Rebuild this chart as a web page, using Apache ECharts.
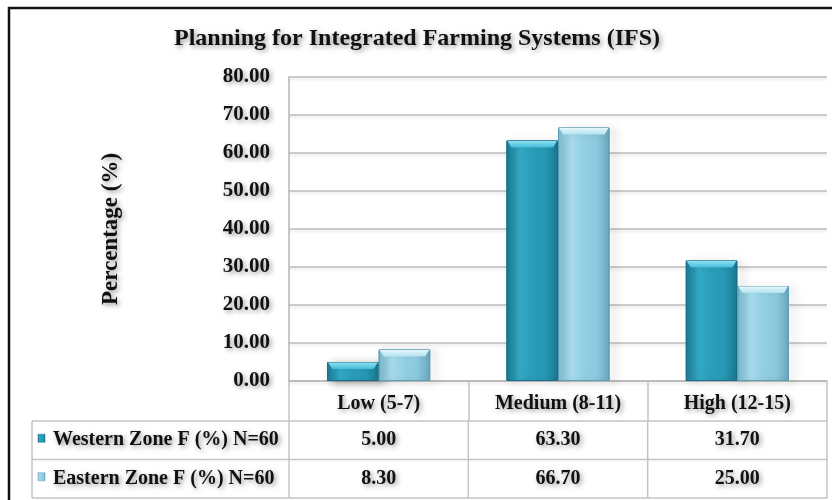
<!DOCTYPE html>
<html>
<head>
<meta charset="utf-8">
<script src="https://cdn.jsdelivr.net/npm/echarts@6/dist/echarts.min.js"></script>
<style>
  html, body { margin: 0; padding: 0; background: #fff; }
  #chart { width: 832px; height: 500px; }
</style>
</head>
<body>
<div id="chart"></div>
<script>
// Level of planning for integrated farming systems, by zone
const categories = ['Low (5-7)', 'Medium (8-11)', 'High (12-15)'];
const seriesNames = ['Western Zone F (%) N=60', 'Eastern Zone F (%) N=60'];
const westernValues = [5.00, 63.30, 31.70];
const easternValues = [8.30, 66.70, 25.00];
const yMin = 0, yMax = 80, yStep = 10;

const FONT = '"Liberation Serif", "Times New Roman", serif';
const shadowText = {
  fontFamily: FONT, fontWeight: 'bold', color: '#111',
  textShadowColor: 'rgba(0,0,0,0.4)', textShadowBlur: 5,
  textShadowOffsetX: 2, textShadowOffsetY: 2
};

function hGrad(stops) {
  return new echarts.graphic.LinearGradient(0, 0, 1, 0,
    stops.map((c, i) => ({ offset: i / (stops.length - 1), color: c })));
}
const westFill = hGrad(['#1b7d97', '#33a9c6', '#2b9db9', '#2898b4', '#1b7891']);
const eastFill = hGrad(['#7cbdd3', '#a8dbec', '#93cfe3', '#8cc9de', '#6aa8bf']);
const westCap = new echarts.graphic.LinearGradient(0, 0, 0, 1,
  [{ offset: 0, color: '#8de0f2' }, { offset: 1, color: '#45bcd8' }]);
const eastCap = new echarts.graphic.LinearGradient(0, 0, 0, 1,
  [{ offset: 0, color: '#e2f7fc' }, { offset: 1, color: '#b4e2f0' }]);

const chart = echarts.init(document.getElementById('chart'), null, { renderer: 'canvas' });

const barShadow = {
  shadowColor: 'rgba(0,0,0,0.35)', shadowBlur: 8, shadowOffsetX: 5, shadowOffsetY: 2
};

const option = {
  animation: false,
  backgroundColor: '#fff',
  title: {
    text: 'Planning for Integrated Farming Systems (IFS)',
    left: 412, top: 22, textAlign: 'center',
    textStyle: Object.assign({}, shadowText, { fontSize: 24 })
  },
  grid: { left: 289, right: 5, top: 77, bottom: 119 },
  xAxis: {
    type: 'category',
    data: categories,
    axisLine: { show: true, lineStyle: { color: '#b5b5b5', width: 1.5 } },
    axisTick: { show: true, inside: false, length: 40, interval: 0,
      lineStyle: { color: '#c4c4c4', width: 1.5 } },
    axisLabel: Object.assign({}, shadowText, { fontSize: 20, margin: 13, interval: 0 })
  },
  yAxis: {
    type: 'value',
    min: yMin, max: yMax, interval: yStep,
    name: 'Percentage (%)',
    nameLocation: 'middle',
    nameGap: 166,
    nameRotate: 90,
    nameTextStyle: Object.assign({}, shadowText, { fontSize: 23 }),
    axisLine: { show: true, lineStyle: { color: '#b5b5b5', width: 1.5 } },
    axisTick: { show: false },
    splitLine: { lineStyle: { color: '#bcbcbc', width: 1.5,
      shadowColor: 'rgba(0,0,0,0.12)', shadowBlur: 3, shadowOffsetY: 2 } },
    axisLabel: Object.assign({}, shadowText, { fontSize: 21, margin: 19,
      formatter: v => v.toFixed(2) })
  },
  series: [
    {
      name: seriesNames[0], type: 'bar', data: westernValues,
      barGap: '0%', barCategoryGap: '42.5%',
      itemStyle: Object.assign({ color: westFill, borderColor: '#176e86', borderWidth: 1 }, barShadow)
    },
    {
      name: seriesNames[1], type: 'bar', data: easternValues,
      barGap: '0%', barCategoryGap: '42.5%',
      itemStyle: Object.assign({ color: eastFill, borderColor: '#5f9db3', borderWidth: 1 }, barShadow)
    }
  ]
};
chart.setOption(option);

// Bevelled caps on top of each bar and the data table under the axis
function buildExtras() {
  const g = [];
  const p0 = chart.convertToPixel({ xAxisIndex: 0, yAxisIndex: 0 }, [0, yMin]);
  const gridRect = chart.getModel().getComponent('grid').coordinateSystem.getRect();
  const bandW = gridRect.width / categories.length;
  const barW = bandW * (1 - 0.425) / 2;
  const left = gridRect.x, right = gridRect.x + gridRect.width;
  const axisY = p0[1];
  const rowH = 38.5;
  const headBottom = axisY + 40;
  const tableLeft = 32;
  const lineStyle = { stroke: '#c4c4c4', lineWidth: 1.5 };
  const txtShadow = { textShadowColor: 'rgba(0,0,0,0.4)', textShadowBlur: 5,
    textShadowOffsetX: 2, textShadowOffsetY: 2 };

  [westernValues, easternValues].forEach((vals, s) => {
    vals.forEach((v, i) => {
      const top = chart.convertToPixel({ xAxisIndex: 0, yAxisIndex: 0 }, [i, v]);
      const x0 = top[0] - barW + s * barW;
      const capH = Math.min(7, (axisY - top[1]) * 0.4);
      g.push({
        type: 'polygon', silent: true, z: 100,
        shape: { points: [[x0 + 1, top[1] + 0.5], [x0 + barW - 1, top[1] + 0.5],
          [x0 + barW - 5, top[1] + capH], [x0 + 5, top[1] + capH]] },
        style: { fill: s === 0 ? westCap : eastCap }
      });
    });
  });

  // table rows
  for (let r = 0; r <= 2; r++) {
    const y = headBottom + r * rowH;
    g.push({ type: 'line', silent: true, z: 100, shape: { x1: tableLeft, y1: y, x2: right, y2: y }, style: lineStyle });
  }
  const colXs = [tableLeft, left];
  for (let i = 1; i <= categories.length; i++) colXs.push(left + i * bandW);
  colXs.forEach(x => {
    g.push({ type: 'line', silent: true, z: 100, shape: { x1: x, y1: headBottom, x2: x, y2: headBottom + 2 * rowH }, style: lineStyle });
  });

  const rows = [westernValues, easternValues];
  const swatches = [westFill, eastFill];
  rows.forEach((vals, r) => {
    const cy = headBottom + r * rowH + rowH / 2;
    g.push({ type: 'rect', silent: true, z: 100,
      shape: { x: tableLeft + 6, y: cy - 6, width: 7, height: 8 },
      style: { fill: swatches[r], stroke: r === 0 ? '#176e86' : '#5f9db3', lineWidth: 0.5 } });
    g.push({ type: 'text', silent: true, z: 100,
      style: Object.assign({ text: seriesNames[r], x: tableLeft + 21, y: cy,
        verticalAlign: 'middle', align: 'left',
        font: 'bold 20px ' + FONT, fill: '#111' }, txtShadow) });
    vals.forEach((v, i) => {
      g.push({ type: 'text', silent: true, z: 100,
        style: Object.assign({ text: v.toFixed(2), x: left + (i + 0.5) * bandW, y: cy,
          verticalAlign: 'middle', align: 'center',
          font: 'bold 20px ' + FONT, fill: '#111' }, txtShadow) });
    });
  });

  // outer frame
  g.push({ type: 'rect', silent: true, z: 100,
    shape: { x: 9, y: 8, width: 840, height: 520 },
    style: { fill: 'none', stroke: '#111', lineWidth: 2.5 } });

  chart.setOption({ graphic: g });
}
buildExtras();
</script>
</body>
</html>
